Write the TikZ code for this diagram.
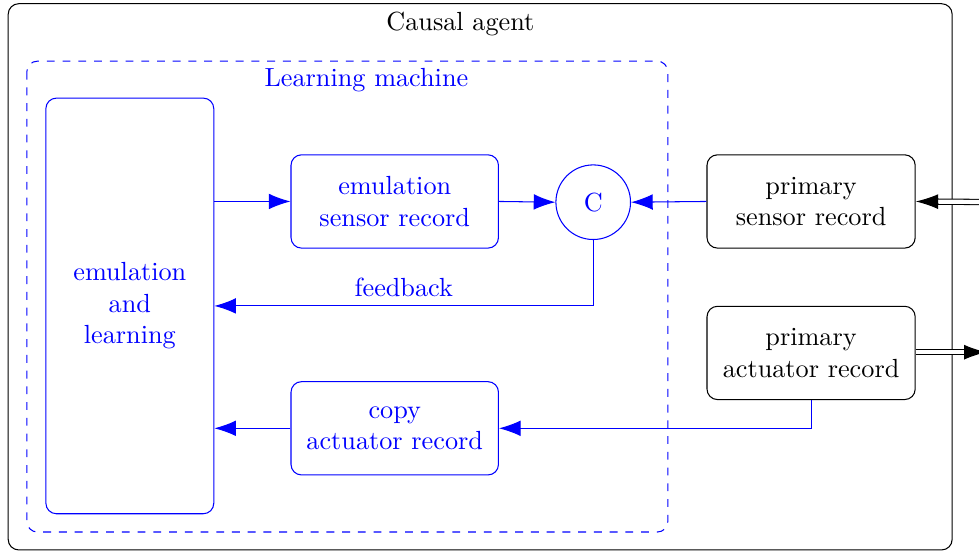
\documentclass[tikz,border=0pt]{standalone}
\usetikzlibrary{arrows.meta,positioning}
\begin{document}
\begin{tikzpicture}[
		blk/.style={draw=blue,text=blue,rounded corners,align=center,minimum width=2.78cm,minimum height=1.25cm},
		rec/.style={draw,rounded corners,align=center,minimum width=2.79cm,minimum height=1.25cm},
		arr/.style={blue,-{Latex[length=2.9mm,width=2.1mm]}},
		dbl/.style={double,double distance=1.6pt,-{Latex[length=3mm,width=2mm]}}
	]
	\useasboundingbox (0,0) rectangle (13.12,-7.40);
	% frames
	\draw [rounded corners] (0.11,-0.05) rectangle (12.76,-7.37);
	\node (agent) at (6.17,-0.32) {Causal agent};
	\draw [blue,dashed,rounded corners] (0.36,-0.82) rectangle (8.95,-7.13);
	\node [text=blue] (machine) at (4.91,-1.07) {Learning machine};
	% boxes
	\node [blk,minimum width=2.25cm,minimum height=5.57cm] (learn) at (1.74,-4.10) {emulation\\and\\learning};
	\node [blk] (emusens) at (5.29,-2.70) {emulation\\sensor record};
	\node [blk] (copyact) at (5.29,-5.74) {copy\\actuator record};
	\node [draw=blue,text=blue,circle,minimum size=1.0cm] (cmp) at (7.95,-2.71) {C};
	\node [rec] (primsens) at (10.87,-2.70) {primary\\sensor record};
	\node [rec] (primact) at (10.87,-4.73) {primary\\actuator record};
	\coordinate (sensin) at (13.5,-2.71);
	\coordinate (actout) at (13.22,-4.72);
	% connectors
	\draw [arr] (learn.east |- emusens) -- (emusens.west);
	\draw [arr] (emusens.east) -- (cmp.west);
	\draw [arr] (primsens.west) -- (cmp.east);
	\draw [arr] (cmp.south) |- node [above,pos=0.75] {feedback} (learn.east);
	\draw [arr] (primact.south) |- (copyact.east);
	\draw [arr] (copyact.west) -- (copyact.west -| learn.east);
	\draw [dbl] (sensin) -- (primsens.east);
	\draw [dbl] (primact.east |- actout) -- (actout);
\end{tikzpicture}
\end{document}
